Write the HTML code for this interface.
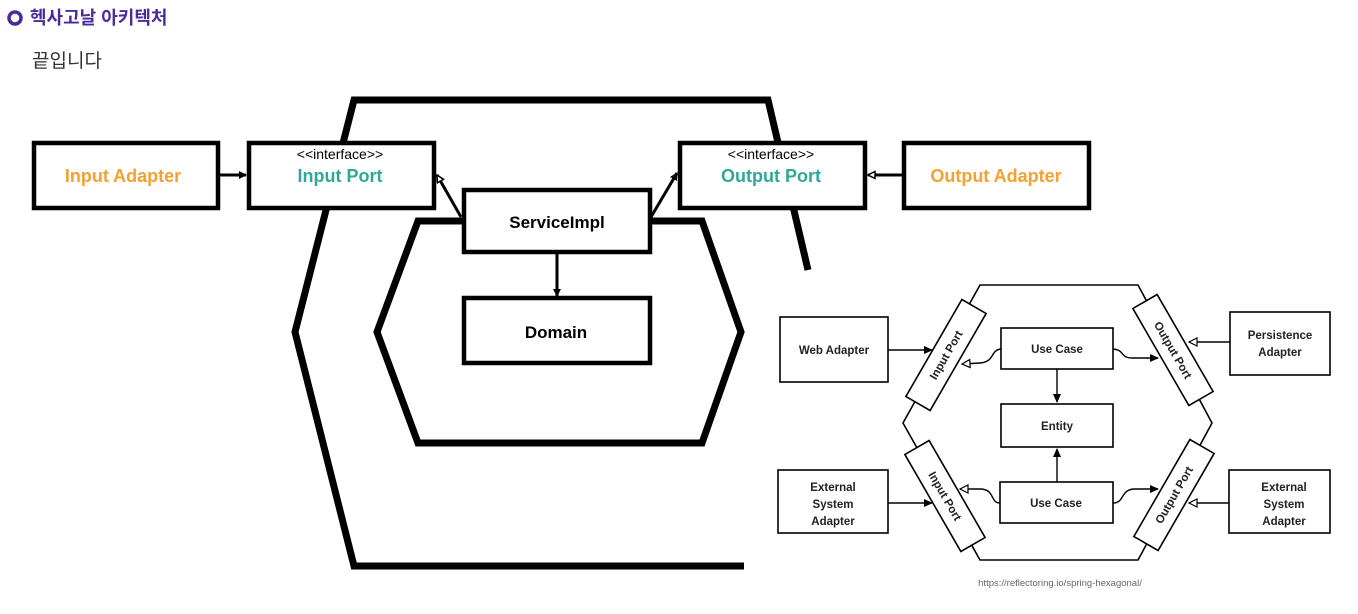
<!DOCTYPE html>
<html><head><meta charset="utf-8"><style>
body{margin:0;width:1358px;height:614px;background:#fff;overflow:hidden;position:relative;font-family:"Liberation Sans","Noto Sans CJK KR",sans-serif}
.t{position:absolute;left:0;top:0}
</style></head><body>
<svg class="t" width="1358" height="614" viewBox="0 0 1358 614" font-family="Liberation Sans, Noto Sans CJK KR, sans-serif">
<defs>
<marker id="af" markerWidth="8" markerHeight="8" refX="7" refY="4" orient="auto" markerUnits="userSpaceOnUse"><path d="M0,0 L8,4 L0,8 z" fill="#000"/></marker>
<marker id="ao" markerWidth="9" markerHeight="9" refX="8" refY="4.5" orient="auto" markerUnits="userSpaceOnUse"><path d="M1,1 L8,4.5 L1,8 z" fill="#fff" stroke="#000" stroke-width="1.5"/></marker>
<marker id="sf" markerWidth="9" markerHeight="9" refX="8" refY="4.5" orient="auto" markerUnits="userSpaceOnUse"><path d="M0,0.5 L9,4.5 L0,8.5 z" fill="#000"/></marker>
<marker id="so" markerWidth="10" markerHeight="10" refX="9" refY="5" orient="auto" markerUnits="userSpaceOnUse"><path d="M1,1 L9,5 L1,9 z" fill="#fff" stroke="#000" stroke-width="1.2"/></marker>
</defs>
<!-- header -->
<circle cx="15" cy="18" r="6" fill="none" stroke="#4b2a99" stroke-width="3.5"/>
<text x="30" y="24" font-size="18" font-weight="bold" fill="#4b2a99">헥사고날 아키텍처</text>
<text x="32" y="67" font-size="19" fill="#333">끝입니다</text>

<!-- outer hexagon -->
<polyline points="808,270 768,100 354,100 295,332 354,566 744,566" fill="none" stroke="#000" stroke-width="7"/>
<!-- inner hexagon -->
<polyline points="462,221 418,221 377,332 418,443 702,443 741,332 702,221 650,221" fill="none" stroke="#000" stroke-width="7"/>

<!-- boxes -->
<g fill="#fff" stroke="#000" stroke-width="4.5">
<rect x="34" y="143" width="184" height="65"/>
<rect x="249" y="143" width="185" height="65"/>
<rect x="680" y="143" width="185" height="65"/>
<rect x="904" y="143" width="185" height="65"/>
<rect x="464" y="190" width="186" height="62"/>
<rect x="464" y="298" width="186" height="65"/>
</g>
<g font-size="18" font-weight="bold" text-anchor="middle">
<text x="123" y="182" fill="#f5a031">Input Adapter</text>
<text x="996" y="182" fill="#f5a031">Output Adapter</text>
<text x="340" y="182" fill="#2ea89a">Input Port</text>
<text x="771" y="182" fill="#2ea89a">Output Port</text>
<text x="557" y="228" fill="#000" font-size="17">ServiceImpl</text>
<text x="556" y="338" fill="#000" font-size="17">Domain</text>
</g>
<g font-size="14" text-anchor="middle" fill="#000">
<text x="340" y="159">&lt;&lt;interface&gt;&gt;</text>
<text x="771" y="159">&lt;&lt;interface&gt;&gt;</text>
</g>
<!-- connectors left -->
<g stroke="#000" stroke-width="3" fill="none">
<line x1="218" y1="175" x2="246" y2="175" marker-end="url(#af)"/>
<line x1="903" y1="175" x2="868" y2="175" marker-end="url(#ao)"/>
<line x1="461" y1="217" x2="437" y2="175" marker-end="url(#ao)"/>
<line x1="651" y1="217" x2="677" y2="173" marker-end="url(#af)"/>
<line x1="557" y1="252" x2="557" y2="296" marker-end="url(#af)"/>
</g>

<!-- right image diagram -->
<g stroke="#000" stroke-width="1.6" fill="none">
<polygon points="980,285 1138,285 1212,423 1138,560 980,560 903,423" fill="#fff"/>
</g>
<g stroke="#000" stroke-width="1.6" fill="#fff">
<rect x="780" y="317" width="108" height="65"/>
<rect x="1230" y="312" width="100" height="63"/>
<rect x="778" y="470" width="110" height="63"/>
<rect x="1229" y="470" width="101" height="63"/>
<rect x="1001" y="328" width="112" height="41"/>
<rect x="1001" y="404" width="112" height="43"/>
<rect x="1000" y="482" width="113" height="41"/>
<g transform="translate(946,355) rotate(-60)"><rect x="-56" y="-14" width="112" height="28"/></g>
<g transform="translate(945,496) rotate(60)"><rect x="-56" y="-14" width="112" height="28"/></g>
<g transform="translate(1173,350) rotate(60)"><rect x="-56" y="-14" width="112" height="28"/></g>
<g transform="translate(1174,495) rotate(-60)"><rect x="-56" y="-14" width="112" height="28"/></g>
</g>
<g stroke="#000" stroke-width="1.4" fill="none">
<line x1="888" y1="350" x2="932" y2="350" marker-end="url(#sf)"/>
<line x1="888" y1="503" x2="932" y2="503" marker-end="url(#sf)"/>
<line x1="1230" y1="342" x2="1189" y2="342" marker-end="url(#so)"/>
<line x1="1229" y1="503" x2="1189" y2="503" marker-end="url(#so)"/>
<line x1="1057" y1="369" x2="1057" y2="402" marker-end="url(#sf)"/>
<line x1="1057" y1="482" x2="1057" y2="449" marker-end="url(#sf)"/>
<path d="M1001,349 C990,350 995,362 980,363 L962,364" marker-end="url(#so)"/>
<path d="M1113,349 C1125,350 1120,358 1132,358 L1158,358" marker-end="url(#sf)"/>
<path d="M1000,503 C990,503 995,489 980,489 L960,489" marker-end="url(#so)"/>
<path d="M1113,503 C1125,503 1120,489 1135,489 L1158,489" marker-end="url(#sf)"/>
</g>
<g font-size="11.5" font-weight="bold" text-anchor="middle" fill="#222">
<text x="834" y="354">Web Adapter</text>
<text x="1280" y="339">Persistence</text>
<text x="1280" y="356">Adapter</text>
<text x="833" y="491">External</text><text x="833" y="508">System</text><text x="833" y="525">Adapter</text>
<text x="1284" y="491">External</text><text x="1284" y="508">System</text><text x="1284" y="525">Adapter</text>
<text x="1057" y="353">Use Case</text>
<text x="1057" y="430">Entity</text>
<text x="1056" y="507">Use Case</text>
<text transform="translate(946,355) rotate(-60)" y="4">Input Port</text>
<text transform="translate(945,496) rotate(60)" y="4">Input Port</text>
<text transform="translate(1173,350) rotate(60)" y="4">Output Port</text>
<text transform="translate(1174,495) rotate(-60)" y="4">Output Port</text>
</g>
<text x="1060" y="586" font-size="9.5" fill="#666" text-anchor="middle">https://reflectoring.io/spring-hexagonal/</text>
</svg>
</body></html>
